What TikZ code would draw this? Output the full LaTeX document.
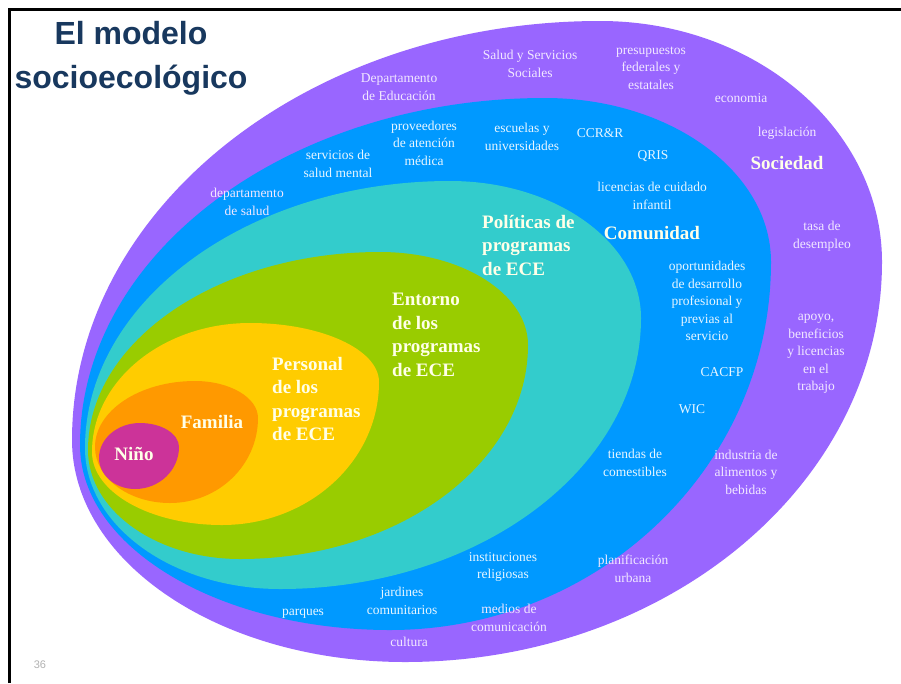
\documentclass[tikz,border=0pt]{standalone}
\usepackage{fontspec}
\setmainfont{Liberation Serif}
\newfontfamily\headfont{Liberation Sans}

\definecolor{socpurple}{RGB}{153,102,255}
\definecolor{comblue}{RGB}{0,153,255}
\definecolor{polteal}{RGB}{51,204,204}
\definecolor{entgreen}{RGB}{153,204,0}
\definecolor{peryellow}{RGB}{255,204,0}
\definecolor{famorange}{RGB}{255,153,0}
\definecolor{ninmagenta}{RGB}{204,51,153}
\definecolor{headnavy}{RGB}{24,56,94}
\definecolor{lavtext}{RGB}{242,232,255}
\definecolor{skytext}{RGB}{232,246,255}
\definecolor{creamtext}{RGB}{255,255,232}

% closed egg through left, top, right and bottom extreme points
\newcommand{\eggring}[9]{%
  \fill[#1] (#2,#3) .. controls (#2,{#3-0.552*(#3-#5)}) and ({#4-0.552*(#4-#2)},#5) .. (#4,#5)
    .. controls ({#4+0.552*(#6-#4)},#5) and (#6,{#7-0.552*(#7-#5)}) .. (#6,#7)
    .. controls (#6,{#7+0.552*(#9-#7)}) and ({#8+0.552*(#6-#8)},#9) .. (#8,#9)
    .. controls ({#8-0.552*(#8-#2)},#9) and (#2,{#3+0.552*(#9-#3)}) .. cycle;}

\tikzset{
  small/.style={align=center,inner sep=0pt,font=\fontsize{13.5}{17.5}\selectfont},
  soc/.style={small,text=lavtext},
  com/.style={small,text=skytext},
  level/.style={inner sep=0pt,text=creamtext,font=\fontsize{19}{23.5}\selectfont\bfseries},
}

\begin{document}
\begin{tikzpicture}[x=1pt,y=-1pt]
  \useasboundingbox (0,0) rectangle (901,683);
  \fill[white] (0,0) rectangle (901,683);

  % nested levels, outermost first
  \eggring{socpurple}{72}{440}{600}{21}{882}{262}{405}{662}
  \eggring{comblue}{80}{445}{545}{98}{771}{262}{390}{630}
  \eggring{polteal}{85}{448}{450}{181}{641}{318}{280}{589}
  \eggring{entgreen}{88}{450}{380}{252}{528}{345}{240}{559}
  \eggring{peryellow}{92}{452}{250}{323}{379}{382}{222}{525}
  \eggring{famorange}{95}{447}{195}{381}{258}{418}{170}{503}
  \eggring{ninmagenta}{99}{458}{140}{423}{179}{447}{135}{489}

  % slide frame
  \draw[line width=3pt] (9,683) -- (9,9) -- (901,9);

  \node[align=center,inner sep=0pt,text=headnavy,
    font=\headfont\bfseries\fontsize{32}{44}\selectfont] (title) at (131,58)
    {El modelo\\socioecológico};
  \node[inner sep=0pt,text=black!30,font=\headfont\fontsize{11}{13}\selectfont]
    (pagenum) at (40,665) {36};

  % level names
  \node[level] (sociedad) at (787,163) {Sociedad};
  \node[level] (comunidad) at (652,233) {Comunidad};
  \node[level,align=left,anchor=west] (politicas) at (482,245)
    {Políticas de\\programas\\de ECE};
  \node[level,align=left,anchor=west] (entorno) at (392,335)
    {Entorno\\de los\\programas\\de ECE};
  \node[level,align=left,anchor=west] (personal) at (272,399)
    {Personal\\de los\\programas\\de ECE};
  \node[level] (familia) at (212,422) {Familia};
  \node[level] (nino) at (134,454) {Niño};

  % society ring
  \node[soc] (depedu) at (399,87) {Departamento\\de Educación};
  \node[soc] (salud) at (530,64) {Salud y Servicios\\Sociales};
  \node[soc] (presup) at (651,68) {presupuestos\\federales y\\estatales};
  \node[soc] (economia) at (741,98) {economia};
  \node[soc] (legis) at (787,133) {legislación};
  \node[soc] (tasa) at (822,236) {tasa de\\desempleo};
  \node[soc] (apoyo) at (816,354) {apoyo,\\beneficios\\y licencias\\en el\\trabajo};
  \node[soc] (industria) at (746,472) {industria de\\alimentos y\\bebidas};
  \node[soc] (planif) at (633,569) {planificación\\urbana};
  \node[soc] (medios) at (509,618) {medios de\\comunicación};
  \node[soc] (cultura) at (409,642) {cultura};
  \node[soc] (depsalud) at (247,202) {departamento\\de salud};

  % community ring
  \node[com] (mental) at (338,164) {servicios de\\salud mental};
  \node[com] (proveed) at (424,143) {proveedores\\de atención\\médica};
  \node[com] (escuelas) at (522,137) {escuelas y\\universidades};
  \node[com] (ccrr) at (600,133) {CCR\&R};
  \node[com] (qris) at (653,156) {QRIS};
  \node[com] (licencias) at (652,196) {licencias de cuidado\\infantil};
  \node[com] (oportun) at (707,301)
    {oportunidades\\de desarrollo\\profesional y\\previas al\\servicio};
  \node[com] (cacfp) at (722,372) {CACFP};
  \node[com] (wic) at (692,409) {WIC};
  \node[com] (tiendas) at (635,463) {tiendas de\\comestibles};
  \node[com] (instit) at (503,567) {instituciones\\religiosas};
  \node[com] (jardines) at (402,601) {jardines\\comunitarios};
  \node[com] (parques) at (303,614) {parques};
\end{tikzpicture}
\end{document}
